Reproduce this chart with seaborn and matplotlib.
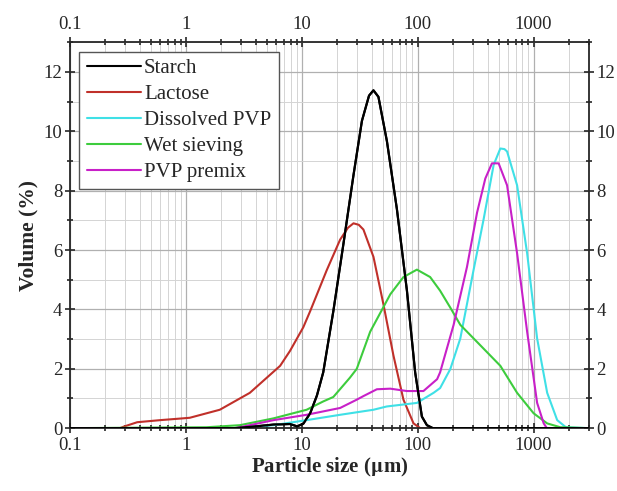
import matplotlib
matplotlib.use("Agg")
import matplotlib.pyplot as plt
from matplotlib.ticker import LogLocator, NullFormatter, MultipleLocator, FuncFormatter
import pandas as pd
import seaborn as sns

# particle size (um) and volume (%)
starch_x = [0.1, 2.6, 4, 5.7, 7.9, 9.1, 10.3, 11.8, 13.5, 15.3, 18.7, 22.9, 27.9, 33, 38, 41.5, 45.8,
            54.2, 66.1, 80.7, 95, 108.6, 120, 135, 3000]
starch_y = [0, 0, 0.06, 0.12, 0.14, 0.06, 0.15, 0.5, 1.1, 1.88, 3.94, 6.23, 8.52, 10.35, 11.2, 11.38, 11.16,
            9.67, 7.38, 4.63, 1.88, 0.39, 0.1, 0, 0]

lactose_x = [0.1, 0.27, 0.29, 0.38, 0.6, 0.94, 1.08, 1.96, 3.56, 6.5, 7.9, 10.3, 11.8, 16.4, 21.4, 25, 27.9,
             31, 34, 41.5, 50.6, 61.7, 75.3, 92, 105, 3000]
lactose_y = [0, 0, 0.05, 0.2, 0.27, 0.33, 0.35, 0.62, 1.19, 2.1, 2.6, 3.4, 3.94, 5.32, 6.35, 6.75, 6.9,
             6.85, 6.69, 5.77, 4.17, 2.45, 0.96, 0.16, 0, 0]

dpvp_x = [0.1, 2.7, 5.7, 11, 21.4, 41.5, 54, 98.4, 137, 156, 191, 233, 303, 370, 452, 516, 560, 590, 720,
          879, 1072, 1309, 1597, 1900, 3000]
dpvp_y = [0, 0, 0.1, 0.27, 0.45, 0.62, 0.73, 0.85, 1.19, 1.35, 1.99, 3.02, 5.32, 7.03, 8.87, 9.42, 9.4,
          9.32, 8.18, 5.89, 3.02, 1.19, 0.27, 0.03, 0]

wet_x = [0.1, 1.5, 2.92, 5.7, 11, 15.3, 18.7, 26, 29.8, 38.9, 58, 75.3, 98.4, 128, 156, 191, 233, 347, 516,
         720, 1000, 1309, 1700, 3000]
wet_y = [0, 0.03, 0.1, 0.33, 0.62, 0.9, 1.05, 1.7, 2.0, 3.25, 4.51, 5.09, 5.34, 5.09, 4.63, 4.06, 3.48,
         2.79, 2.1, 1.19, 0.5, 0.16, 0.03, 0]

premix_x = [0.1, 2.7, 5.7, 11, 21.4, 29.8, 34, 44.4, 58, 80.7, 112, 147, 156, 204, 266, 325, 383, 437, 499,
            590, 720, 879, 1072, 1222, 1300, 3000]
premix_y = [0, 0, 0.27, 0.45, 0.68, 0.96, 1.08, 1.31, 1.33, 1.25, 1.25, 1.65, 1.88, 3.48, 5.43, 7.26, 8.41,
            8.92, 8.92, 8.18, 5.89, 3.25, 0.85, 0.16, 0, 0]

labels = ["Starch", "Lactose", "Dissolved PVP", "Wet sieving", "PVP premix"]
colors = ["#000000", "#c0302a", "#3fe0e6", "#3dcc3d", "#c820c8"]
series = [(starch_x, starch_y), (lactose_x, lactose_y), (dpvp_x, dpvp_y),
          (wet_x, wet_y), (premix_x, premix_y)]

frames = []
for name, (xs, ys) in zip(labels, series):
    frames.append(pd.DataFrame({"size": xs, "volume": ys, "sample": name}))
df = pd.concat(frames, ignore_index=True)

sns.set_style("ticks")
plt.rcParams["font.family"] = ["Liberation Serif", "DejaVu Serif"]
plt.rcParams["mathtext.fontset"] = "stix"

fig = plt.figure(figsize=(6.17, 4.91), dpi=100)
ax = fig.add_axes([0.1135, 0.128, 0.841, 0.786])

sns.lineplot(data=df, x="size", y="volume", hue="sample", hue_order=labels,
             palette=dict(zip(labels, colors)), estimator=None, sort=False,
             linewidth=1.5, ax=ax)
# redraw starch on top so the zero baseline is black
ax.plot(starch_x, starch_y, color="#000000", lw=1.6, zorder=5)

ax.set_xscale("log")
ax.set_xlim(0.1, 3000)
ax.set_ylim(0, 13)

ax.xaxis.set_major_locator(LogLocator(base=10, numticks=10))
ax.xaxis.set_minor_locator(LogLocator(base=10, subs=range(2, 10), numticks=20))
ax.xaxis.set_minor_formatter(NullFormatter())
ax.xaxis.set_major_formatter(FuncFormatter(lambda v, p: f"{v:g}"))
ax.yaxis.set_major_locator(MultipleLocator(2))
ax.yaxis.set_minor_locator(MultipleLocator(1))

ax.grid(which="major", color="#b0b0b0", lw=0.9)
ax.grid(which="minor", color="#d4d4d4", lw=0.7)
ax.set_axisbelow(True)

ax.tick_params(which="both", direction="inout", top=True, right=True,
               labeltop=True, labelright=True, labelsize=13.5, width=1.2)
ax.tick_params(axis="x", which="both", pad=3)
ax.tick_params(axis="y", which="both", pad=2)
ax.tick_params(which="major", length=7)
ax.tick_params(which="minor", length=4)
for s in ax.spines.values():
    s.set_linewidth(1.3)

ax.set_xlabel("Particle size ($\\mathbf{\\mu}$m)", fontsize=15, fontweight="bold", labelpad=1)
ax.set_ylabel("Volume (%)", fontsize=15.5, fontweight="bold", labelpad=4)

leg = ax.legend(loc="upper left", fontsize=15, frameon=True, fancybox=False,
                edgecolor="#555555", borderaxespad=0.45, handlelength=2.6,
                handletextpad=0.15, labelspacing=0.3, borderpad=0.35)
leg.get_frame().set_linewidth(1.0)
leg.get_frame().set_alpha(1)

fig.savefig("out.png", dpi=100)
